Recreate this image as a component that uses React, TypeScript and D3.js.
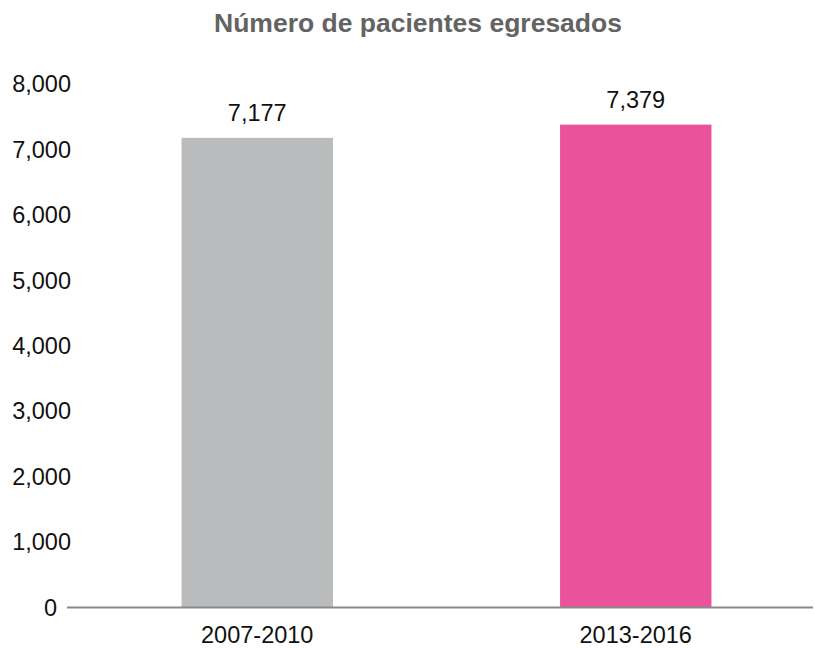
import React from "react";
import * as d3 from "d3";

const categories = ["2007-2010", "2013-2016"];
const values = [7177, 7379];
const barColors = ["#BABBBD", "#EA529B"];
const yTicks = [0, 1000, 2000, 3000, 4000, 5000, 6000, 7000, 8000];
const title = "Número de pacientes egresados";

const W = 814;
const H = 648;
const FONT = "'Liberation Sans', Arial, Helvetica, sans-serif";

export default function App() {
  const x = d3
    .scaleBand<string>()
    .domain(categories)
    .range([68, 825])
    .paddingInner(0.6)
    .paddingOuter(0.3);
  const y = d3.scaleLinear().domain([0, 8000]).range([607.5, 84]);
  const fmt = d3.format(",");

  return (
    <svg
      width={W}
      height={H}
      style={{ position: "absolute", left: 0, top: 0, background: "#fff" }}
      fontFamily={FONT}
    >
      <text
        x={418}
        y={32}
        textAnchor="middle"
        fontSize={26.5}
        fontWeight="bold"
        fill="#636363"
      >
        {title}
      </text>
      {yTicks.map((t) => (
        <text
          key={t}
          x={t === 0 ? 57 : 71}
          y={y(t)}
          dy="0.35em"
          textAnchor="end"
          fontSize={23.5}
          fill="#111"
        >
          {fmt(t)}
        </text>
      ))}
      {categories.map((c, i) => (
        <g key={c}>
          <rect
            x={x(c)}
            y={y(values[i])}
            width={x.bandwidth()}
            height={y(0) - y(values[i])}
            fill={barColors[i]}
          />
          <text
            x={(x(c) as number) + x.bandwidth() / 2}
            y={y(values[i]) - 17}
            textAnchor="middle"
            fontSize={23.5}
            fill="#111"
          >
            {fmt(values[i])}
          </text>
          <text
            x={(x(c) as number) + x.bandwidth() / 2}
            y={643}
            textAnchor="middle"
            fontSize={23.5}
            fill="#111"
          >
            {c}
          </text>
        </g>
      ))}
      <line
        x1={67}
        x2={813}
        y1={y(0)}
        y2={y(0)}
        stroke="#8a8a8a"
        strokeWidth={2}
      />
    </svg>
  );
}
